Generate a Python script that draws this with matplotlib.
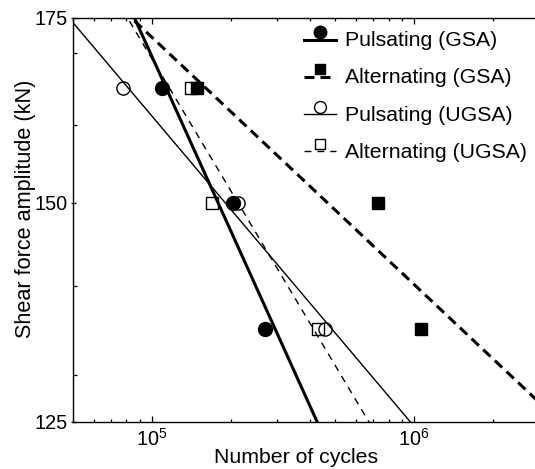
import numpy as np
import matplotlib
matplotlib.use("Agg")
import matplotlib.pyplot as plt
from matplotlib.lines import Line2D
from matplotlib.legend_handler import HandlerBase
from matplotlib.ticker import FixedLocator, FixedFormatter, NullFormatter, LogLocator

plt.rcParams["font.family"] = ["Liberation Sans", "DejaVu Sans"]
plt.rcParams["mathtext.fontset"] = "custom"
plt.rcParams["mathtext.rm"] = "Liberation Sans"
plt.rcParams["mathtext.it"] = "Liberation Sans:italic"
plt.rcParams["lines.scale_dashes"] = False

# Test results: shear force amplitude (kN) vs. cycles to failure
amp_levels = [165, 150, 135]
cycles_puls_gsa = [1.09e5, 2.04e5, 2.70e5]
cycles_alt_gsa = [1.48e5, 7.30e5, 1.06e6]
cycles_puls_ugsa = [7.76e4, 2.13e5, 4.57e5]
cycles_alt_ugsa = [1.41e5, 1.70e5, 4.30e5]

series_labels = ["Pulsating (GSA)", "Alternating (GSA)",
                 "Pulsating (UGSA)", "Alternating (UGSA)"]
x_tick_values = [1e5, 1e6]
x_tick_labels = [r"$\mathregular{10^{5}}$", r"$\mathregular{10^{6}}$"]
y_tick_values = [125, 150, 175]
y_tick_labels = ["125", "150", "175"]
y_minor_values = [130, 140, 160, 170]

W, H = 535, 469
fig = plt.figure(figsize=(W / 100, H / 100), dpi=100)
left, right, top, bottom = 73, 539, 17.7, 421.7
ax = fig.add_axes([left / W, 1 - bottom / H, (right - left) / W, (bottom - top) / H])
ax.set_xscale("log")
ax.set_yscale("log")
ax.set_xlim(5e4, 3e6)
ax.set_ylim(125, 175)

styles = [
    dict(ls="-", lw=2.2, marker="o", ms=10, mfc="black"),
    dict(ls=(0, (7.2, 4.3)), lw=2.2, marker="s", ms=8, mfc="black"),
    dict(ls="-", lw=1.0, marker="o", ms=9.5, mfc="none"),
    dict(ls=(0, (5.0, 4.3)), lw=1.0, marker="s", ms=8, mfc="none"),
]
data_sets = [cycles_puls_gsa, cycles_alt_gsa, cycles_puls_ugsa, cycles_alt_ugsa]

# power-law fit lines (straight in log-log space) spanning the whole axis
n_grid = np.logspace(np.log10(4e4), np.log10(4e6), 300)
order = [2, 3, 0, 1]  # open markers underneath the filled ones
for i in order:
    st = styles[i]
    n = np.asarray(data_sets[i])
    s = np.asarray(amp_levels, dtype=float)
    b, a = np.polyfit(np.log10(n), np.log10(s), 1)
    ax.plot(n_grid, 10 ** (a + b * np.log10(n_grid)), color="black",
            linestyle=st["ls"], lw=st["lw"], zorder=2)
    ax.plot(n, s, linestyle="none", marker=st["marker"], ms=st["ms"],
            mfc=st["mfc"], mec="black", mew=1.0, zorder=3 + (i < 2))

handles = []
for i in range(4):
    st = styles[i]
    handles.append(Line2D([], [], color="black", linestyle=st["ls"], lw=st["lw"],
                          marker=st["marker"], ms=st["ms"] * 0.9, mfc=st["mfc"],
                          mec="black", mew=1.0))


class RaisedMarkerHandler(HandlerBase):
    """Legend entry with the marker sitting above the line segment."""

    def create_artists(self, legend, orig_handle, xdescent, ydescent,
                       width, height, fontsize, trans):
        yc = (height - ydescent) / 2 - 0.05 * fontsize
        seg = Line2D([-xdescent, -xdescent + width], [yc, yc])
        self.update_prop(seg, orig_handle, legend)
        seg.set_marker("None")
        mk = Line2D([-xdescent + width / 2], [yc + 0.36 * fontsize])
        self.update_prop(mk, orig_handle, legend)
        mk.set_linestyle("None")
        seg.set_transform(trans)
        mk.set_transform(trans)
        return [seg, mk]


leg = ax.legend(handles, series_labels, loc="upper left",
                bbox_to_anchor=(304 / W, 1 - 31 / H), bbox_transform=fig.transFigure,
                frameon=False, fontsize=15.3, borderpad=0, borderaxespad=0,
                handlelength=1.5, handletextpad=0.45, labelspacing=0.86,
                numpoints=1, handler_map={Line2D: RaisedMarkerHandler()})

ax.xaxis.set_major_locator(FixedLocator(x_tick_values))
ax.xaxis.set_major_formatter(FixedFormatter(x_tick_labels))
ax.xaxis.set_minor_locator(LogLocator(base=10, subs=np.arange(2, 10), numticks=20))
ax.xaxis.set_minor_formatter(NullFormatter())
ax.yaxis.set_major_locator(FixedLocator(y_tick_values))
ax.yaxis.set_major_formatter(FixedFormatter(y_tick_labels))
ax.yaxis.set_minor_locator(FixedLocator(y_minor_values))
ax.yaxis.set_minor_formatter(NullFormatter())

ax.tick_params(axis="both", which="both", top=True, right=True, direction="in",
               width=0.9, colors="black")
ax.tick_params(axis="x", which="major", length=4.0, pad=4.5, labelsize=14.3)
ax.tick_params(axis="x", which="minor", length=2.0)
ax.tick_params(axis="y", which="major", direction="inout", length=3.6, pad=1.8,
               labelsize=14.3)
ax.tick_params(axis="y", which="minor", length=3.0)
for sp in ax.spines.values():
    sp.set_linewidth(1.0)

ax.set_xlabel("Number of cycles", fontsize=15.3)
ax.set_ylabel("Shear force amplitude (kN)", fontsize=15.6)
ax.xaxis.set_label_coords((296 - left) / (right - left), -(448 - bottom) / (bottom - top))
ax.yaxis.set_label_coords(-(left - 36.5) / (right - left), (bottom - 209) / (bottom - top))

fig.savefig("out.png", dpi=100)
